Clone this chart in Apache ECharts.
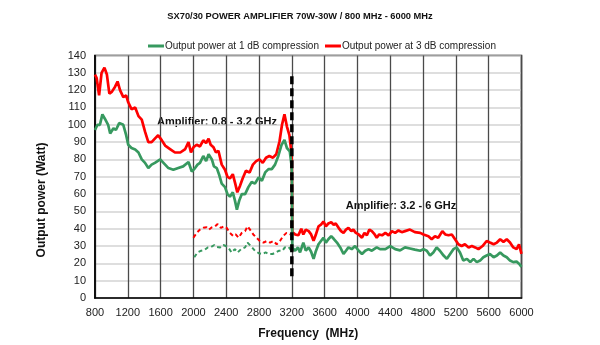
<!DOCTYPE html>
<html>
<head>
<meta charset="utf-8">
<script src="https://cdn.jsdelivr.net/npm/echarts@6/dist/echarts.min.js"></script>
<style>html,body{margin:0;padding:0;background:#fff}#c{width:600px;height:345px}</style>
</head>
<body>
<div id="c"></div>
<script>
// ---- data ----
const xTicks = [800,1200,1600,2000,2400,2800,3200,3600,4000,4400,4800,5200,5600,6000];
const yTicks = [0,10,20,30,40,50,60,70,80,90,100,110,120,130,140];

const redFreq = [800,820,850,880,915,945,975,1005,1045,1075,1105,1145,1180,1205,1245,1290,1330,1370,1410,1450,1490,1530,1570,1615,1655,1715,1775,1840,1900,1940,1970,2000,2040,2080,2120,2155,2185,2210,2245,2275,2305,2345,2385,2415,2445,2480,2510,2535,2570,2600,2640,2685,2725,2765,2805,2845,2885,2925,2970,3010,3050,3080,3110,3140,3170,3190,3200,3205,3240,3280,3315,3340,3370,3405,3435,3465,3490,3525,3555,3585,3615,3645,3680,3710,3735,3770,3800,3830,3860,3890,3925,3950,3980,4015,4055,4085,4115,4145,4175,4210,4235,4265,4300,4340,4380,4420,4460,4500,4540,4580,4640,4700,4765,4805,4865,4905,4945,4985,5035,5070,5110,5150,5190,5230,5270,5310,5355,5395,5435,5475,5525,5575,5615,5660,5700,5740,5780,5820,5860,5900,5940,5970,6000];
const redVal = [129,127,117,130,133,129,118,119,122,125,120,116,117,113,109,110,105,103,96,90,90,92,94,91,88,86,84,84,86,90,84,87,88.5,87.5,91,89.5,92,88.5,87,84,85,77,74,70,69,71.5,66,61,65,69,73.5,72.5,77,79,80,78,81,82,81,83,90.5,100,106,99,94,86,79,38,36.7,36.2,40,36.7,39.5,38.6,36.7,33,36.2,41.4,42.3,44.2,41.4,43,43.7,42.3,43,40.5,38.6,37.6,39.5,40.5,38.6,39.5,37.6,36.7,34.8,37.6,36.2,39.5,38.6,36.7,34.8,36.7,36.2,37.6,36.2,38.6,37.6,39,38,38.6,39.5,38,37.6,36.7,35.7,33.9,35.7,34.8,38.6,36.7,36.2,36.7,33.9,31,30,31,29.2,30,29.2,28.2,30,32.9,32,31,32,33.9,32.4,33.9,32,29.2,28.2,31,25.5];

const greenFreq = [800,830,860,890,920,960,985,1025,1055,1095,1145,1180,1205,1245,1290,1330,1370,1410,1450,1490,1530,1595,1635,1695,1755,1815,1875,1940,1980,2020,2050,2080,2120,2155,2185,2225,2250,2285,2315,2345,2385,2415,2445,2480,2505,2530,2560,2590,2630,2670,2710,2750,2795,2835,2875,2915,2955,2995,3035,3075,3110,3140,3175,3195,3200,3205,3240,3275,3300,3340,3370,3405,3435,3465,3490,3525,3555,3585,3615,3645,3680,3710,3750,3790,3830,3860,3890,3930,3970,4015,4055,4095,4135,4175,4235,4275,4340,4400,4460,4520,4580,4640,4700,4765,4805,4845,4885,4925,4965,5005,5050,5090,5130,5170,5210,5250,5290,5335,5375,5415,5455,5495,5535,5575,5615,5660,5700,5740,5780,5820,5860,5900,5940,5970,6000];
const greenVal = [97,100,100,106,103.5,100,95,98,97,101,100,94,88.5,86.6,85.7,84,80,78,75,77,78,80,78,75,74,75,76,78.5,73,75,77,78,82,79,83,80,76,75,71,66,64,60,58.5,61,56.5,51,56.5,60,60,64,67,66,69.6,67.7,72.5,74.4,74.4,77,82,88.5,91.3,86.6,84.7,77,72,29,27.3,29.2,26.3,32,27.3,29.2,26.7,22.6,26.7,31,32.9,34.8,32,33.9,35.7,34.2,32,29.2,25.4,27.3,29.2,28.2,30,27.3,25.4,27.3,28.2,27.3,29.2,28.2,28.2,30,28.2,27.5,29.2,28.6,27.9,27.3,28.2,27.3,24.5,26.3,29.2,27.3,24.5,22.6,25.4,28.2,29.2,26.3,21.6,22.6,20.7,22.6,20.7,21.6,23.5,24.5,25.4,23.5,24.5,26.3,24.5,23.5,21.6,20.7,21,19.8,18];

const redDashFreq = [2000,2040,2080,2120,2160,2190,2225,2265,2295,2335,2375,2405,2445,2485,2515,2550,2590,2630,2660,2690,2730,2770,2810,2855,2895,2935,2975,3015,3055,3095,3135,3180];
const redDashVal = [34.8,37.6,39.5,40.5,40.8,39.5,40.8,41.4,42.7,40.5,41.4,40.5,37.6,35.8,36.7,34.8,37.6,38.6,41.4,39.5,36.7,34.8,32.9,32,32.9,32,32.9,31,32.9,35.8,37.6,36.7];

const greenDashFreq = [2010,2050,2095,2135,2175,2215,2255,2285,2325,2365,2395,2425,2465,2505,2540,2580,2630,2660,2700,2750,2800,2840,2880,2920,2965,3005,3045,3085,3115,3160,3195];
const greenDashVal = [23.5,26.3,27.3,27.7,29.2,29.5,30.6,29.5,29.2,30.6,30,29.2,26.3,28.2,26.3,28.2,29.2,32,30,27.3,25.8,25.4,26.3,25.4,25.4,26.3,27.3,27.3,29.2,29.5,27.3];

const dividerFreq = [3200,3200];
const dividerVal = [128,12];

const seriesNames = ['Output power at 1 dB compression','Output power at 3 dB compression'];
const titleText = 'SX70/30 POWER AMPLIFIER 70W-30W / 800 MHz - 6000 MHz';
const band1Text = 'Amplifier: 0.8 - 3.2 GHz';
const band2Text = 'Amplifier: 3.2 - 6 GHz';

// ---- chart ----
const zip = (a,b) => a.map((v,i)=>[v,b[i]]);
const GREEN = '#37995f', RED = '#ff0000';
const chart = echarts.init(document.getElementById('c'), null, {renderer:'canvas'});
const FONT = 'Liberation Sans, Arial, sans-serif';

chart.setOption({
  animation:false,
  backgroundColor:'#fff',
  textStyle:{fontFamily:FONT},
  title:{text:titleText, left:'center', top:7, textStyle:{fontSize:9.3, fontWeight:'bold', color:'#111', fontFamily:FONT}},
  legend:{
    data:seriesNames, top:36, left:143, itemGap:6, itemWidth:16, itemHeight:3, icon:'rect',
    textStyle:{fontSize:10, color:'#222', fontFamily:FONT, padding:[0,0,0,-4]}
  },
  grid:{left:95, right:78.5, top:55.5, bottom:41.7, show:true, borderColor:'#000', borderWidth:1.5, containLabel:false},
  xAxis:{
    type:'value', min:xTicks[0], max:xTicks[xTicks.length-1], interval:400,
    name:'Frequency  (MHz)', nameLocation:'middle', nameGap:30,
    nameTextStyle:{fontSize:12, fontWeight:'bold', color:'#111', fontFamily:FONT},
    axisLine:{show:true, lineStyle:{color:'#000', width:1.5}},
    axisTick:{show:false},
    axisLabel:{fontSize:11, color:'#222', margin:9, fontFamily:FONT, formatter:v=>String(v)},
    splitLine:{show:true, lineStyle:{color:'#4a4a4a', width:1.3}}
  },
  yAxis:{
    type:'value', min:yTicks[0], max:yTicks[yTicks.length-1], interval:10,
    axisLine:{show:true, lineStyle:{color:'#000', width:1.5}},
    axisTick:{show:false},
    axisLabel:{fontSize:11, color:'#222', margin:9, fontFamily:FONT, formatter:v=>String(v)},
    splitLine:{show:true, lineStyle:{color:'#d3d3d3', width:1.5}}
  },
  graphic:[
    {type:'text', x:42, y:200, rotation:Math.PI/2, style:{text:'Output power (Watt)', font:'bold 12px '+FONT, fill:'#111', textAlign:'center', textVerticalAlign:'middle'}},
    {type:'text', x:217, y:122, style:{text:band1Text, font:'bold 11px '+FONT, fill:'#111', textAlign:'center', textVerticalAlign:'middle'}},
    {type:'text', x:401, y:206, style:{text:band2Text, font:'bold 11px '+FONT, fill:'#111', textAlign:'center', textVerticalAlign:'middle'}}
  ],
  series:[
    {name:seriesNames[1], type:'line', data:zip(redFreq,redVal), showSymbol:false, symbol:'none', color:RED, lineStyle:{color:RED, width:2.7}, z:3},
    {name:seriesNames[0], type:'line', data:zip(greenFreq,greenVal), showSymbol:false, symbol:'none', color:GREEN, lineStyle:{color:GREEN, width:2.7}, z:4},
    {name:'red-dash', type:'line', data:zip(redDashFreq,redDashVal), symbol:'none', lineStyle:{color:RED, width:2, type:[4,3]}, z:3},
    {name:'green-dash', type:'line', data:zip(greenDashFreq,greenDashVal), symbol:'none', lineStyle:{color:GREEN, width:2, type:[4,3]}, z:3},
    {name:'divider', type:'line', data:zip(dividerFreq,dividerVal), symbol:'none', lineStyle:{color:'#000', width:3.5, type:[8,4]}, z:6}
  ]
});
</script>
</body>
</html>
